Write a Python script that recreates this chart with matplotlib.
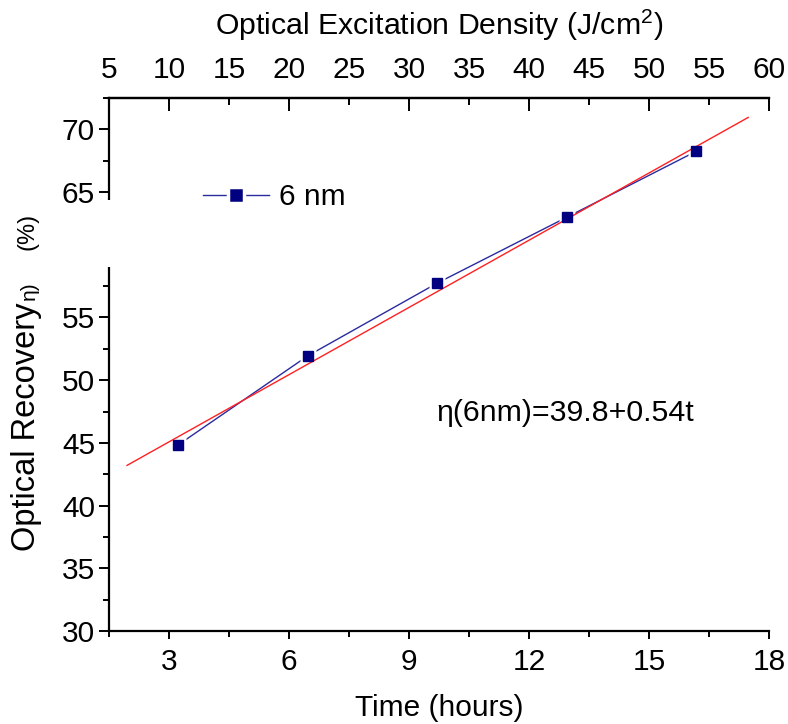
import matplotlib
matplotlib.use("Agg")
import matplotlib.pyplot as plt
from matplotlib.patches import Rectangle
from matplotlib.lines import Line2D
from matplotlib.ticker import MultipleLocator, FixedLocator, FormatStrFormatter
import numpy as np

plt.rcParams['font.family'] = ['Liberation Sans', 'DejaVu Sans']
plt.rcParams['mathtext.fontset'] = 'custom'
plt.rcParams['mathtext.rm'] = 'Liberation Sans'
plt.rcParams['mathtext.it'] = 'Liberation Sans:italic'

# Data
time_hours = [3.225, 6.475, 9.70, 12.95, 16.18]
recovery = [44.83, 51.95, 57.73, 63.0, 68.25]
series_label = "6 nm"

# Linear fit line (as drawn), versus excitation density E = t * 10/3
fit_intercept = 39.72
fit_slope = 0.536
fit_t_range = [1.95, 17.48]
density_per_hour = 10.0 / 3.0

bottom_ticks = [3, 6, 9, 12, 15, 18]
top_ticks = [5, 10, 15, 20, 25, 30, 35, 40, 45, 50, 55, 60]
left_ticks = [30, 35, 40, 45, 50, 55, 65, 70]

W, H = 788, 724
fig = plt.figure(figsize=(W / 100, H / 100), dpi=100)
L, R, T, B = 109, 769, 98, 631
ax = fig.add_axes([L / W, 1 - B / H, (R - L) / W, (B - T) / H])

fs = 21.5
navy = '#000080'
blue_line = '#2a2aa0'

t_fit = np.array(fit_t_range)
y_fit = fit_intercept + fit_slope * t_fit * density_per_hour
ax.plot(time_hours, recovery, color=blue_line, lw=1.0, zorder=2)
ax.plot(time_hours, recovery, ls='none', marker='s', ms=12, mfc='white',
        mec='none', zorder=2.5)
ax.plot(t_fit, y_fit, color='#ff2020', lw=1.0, zorder=3)
ax.plot(time_hours, recovery, ls='none', marker='s', ms=7.5,
        mfc=navy, mec=navy, zorder=4)

ax.set_xlim(1.5, 18)
ax.set_ylim(30, 72.5)
ax.xaxis.set_major_locator(FixedLocator(bottom_ticks))
ax.xaxis.set_minor_locator(MultipleLocator(1.5))
ax.yaxis.set_major_locator(FixedLocator(left_ticks))
ax.yaxis.set_minor_locator(MultipleLocator(2.5))

ax.spines['right'].set_visible(False)
for s in ['left', 'bottom', 'top']:
    ax.spines[s].set_linewidth(1.6)

ax.tick_params(axis='x', which='major', direction='out', length=6, width=1.4,
               labelsize=fs, pad=6)
ax.tick_params(axis='x', which='minor', direction='out', length=4, width=1.4)
ax.tick_params(axis='y', which='major', direction='out', length=7, width=1.4,
               labelsize=fs, pad=3)
ax.tick_params(axis='y', which='minor', direction='out', length=4, width=1.4)
ax.tick_params(right=False, which='both')

ax.set_xlabel('Time (hours)', fontsize=fs, labelpad=13)

# Top axis: optical excitation density
ax2 = ax.twiny()
ax2.set_xlim(1.5 * density_per_hour, 18 * density_per_hour)
ax2.spines['right'].set_visible(False)
ax2.spines['left'].set_visible(False)
ax2.spines['bottom'].set_visible(False)
ax2.spines['top'].set_linewidth(1.6)
ax2.xaxis.set_major_locator(FixedLocator([t for t in top_ticks if t % 10 == 0]))
ax2.xaxis.set_minor_locator(FixedLocator([t for t in top_ticks if t % 10 != 0]))
ax2.xaxis.set_minor_formatter(FormatStrFormatter('%d'))
ax2.tick_params(axis='x', which='major', direction='in', length=9, width=1.4,
                labelsize=fs, pad=10)
ax2.tick_params(axis='x', which='minor', direction='in', length=5, width=1.4,
                labelsize=fs, pad=10)
ax2.set_xlabel('Optical Excitation Density (J/cm$^2$)', fontsize=21.8, labelpad=15)

# Legend
handle = Line2D([], [], color=blue_line, lw=1.0, marker='s', ms=11,
                mfc=navy, mec='white', mew=2.5)
ax.legend([handle], [series_label], loc='center left',
          bbox_to_anchor=((203 - L) / (R - L), (B - 197) / (B - T)),
          frameon=False, fontsize=fs, borderpad=0, borderaxespad=0,
          handlelength=2.2, handletextpad=0.35)

# Equation annotation
ax.text(12.9, 47.4, 'η(6nm)=39.8+0.54t', fontsize=21.8, ha='center', va='center')

# Y label (composed of pieces as in the original)
fig.text(27 / W, 1 - 551 / H, 'Optical Recovery', rotation=90,
         fontsize=23.5, ha='center', va='bottom')
fig.text(29 / W, 1 - 300 / H, 'η)', rotation=90,
         fontsize=15, ha='center', va='bottom')
fig.text(27 / W, 1 - 213 / H, '(%)', rotation=90,
         fontsize=17, ha='center', va='top')

# Gap in left spine
fig.add_artist(Rectangle(((L - 14) / W, 1 - 267 / H), 17 / W, 67 / H,
                         transform=fig.transFigure, facecolor='white',
                         edgecolor='none', zorder=10))

fig.savefig('out.png', dpi=100)
